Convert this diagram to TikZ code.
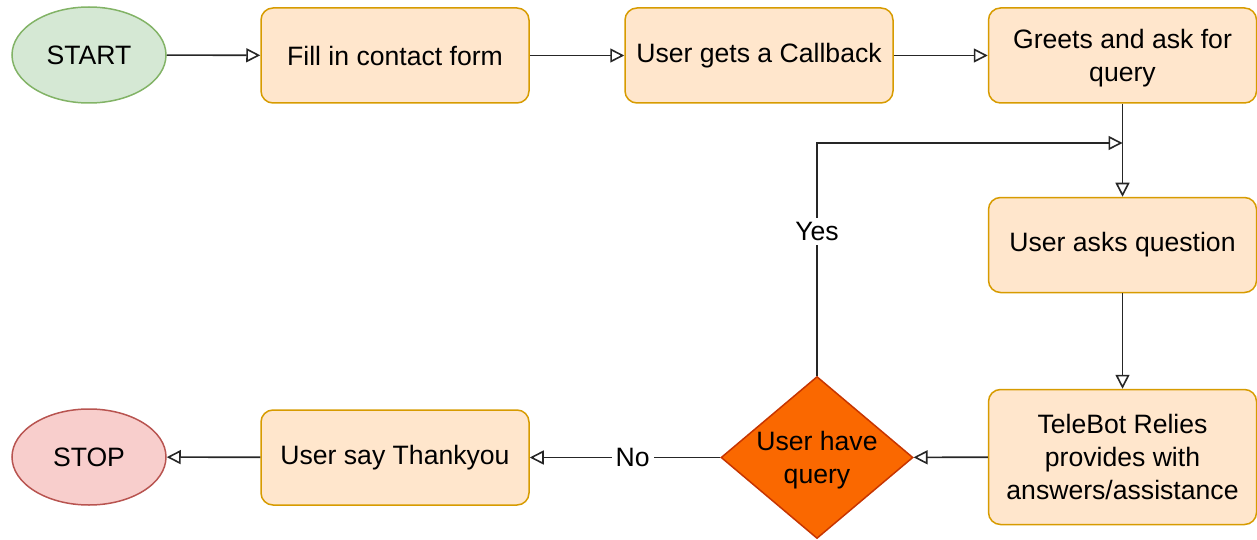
\documentclass[tikz,border=0pt]{standalone}
\usepackage{fontspec}
\setmainfont{Liberation Sans}
\usetikzlibrary{shapes.geometric,arrows.meta}
\definecolor{boxfill}{HTML}{FFE6CC}
\definecolor{boxline}{HTML}{D79B00}
\definecolor{startfill}{HTML}{D5E8D4}
\definecolor{startline}{HTML}{82B366}
\definecolor{stopfill}{HTML}{F8CECC}
\definecolor{stopline}{HTML}{B85450}
\definecolor{decfill}{HTML}{FA6800}
\definecolor{decline}{HTML}{C73500}
\tikzset{
  label font/.style={font=\fontsize{26.6}{33}\selectfont},
  stepbox/.style={draw=boxline, fill=boxfill, rounded corners=12pt, line width=1.5pt,
    minimum width=268pt, minimum height=95pt, align=center, label font, inner sep=2pt},
  terminal/.style={ellipse, line width=1.5pt, minimum width=154pt, minimum height=96pt,
    inner sep=0pt, label font},
  decision/.style={diamond, draw=decline, fill=decfill, line width=1.5pt, aspect=1.185,
    minimum width=192pt, minimum height=162pt, inner sep=0pt, align=center, label font},
  flow/.style={draw=black!85, line width=1.6pt, -{Triangle[open, length=14pt, width=14pt]}},
  edgelabel/.style={fill=white, label font, inner sep=4pt}
}
\begin{document}
\begin{tikzpicture}[x=1pt, y=-1pt]
\useasboundingbox (0,0) rectangle (1257,540);
\clip (0,0) rectangle (1257,540);

% top row
\node[terminal, draw=startline, fill=startfill] (start) at (89,55) {START};
\node[stepbox] (form) at (395,55.5) {Fill in contact form};
\node[stepbox] (callback) at (759,55.5) {User gets a Callback};
\node[stepbox, text depth=0pt] (greet) at (1122.5,55.5) {Greets and ask for\\query};

% right column
\node[stepbox] (ask) at (1122.5,245) {User asks question};
\node[stepbox, minimum height=135pt] (reply) at (1122.5,457) {TeleBot Relies\\provides with\\answers/assistance};

% bottom row
\node[decision, text depth=-3pt] (query) at (817,457.5) {User have\\query};
\node[stepbox] (thanks) at (395,457.5) {User say Thankyou};
\node[terminal, draw=stopline, fill=stopfill] (stop) at (89,457) {STOP};

\coordinate (merge) at (1122.5,143);

% connectors
\draw[flow] (start) -- (form);
\draw[flow] (form) -- (callback);
\draw[flow] (callback) -- (greet);
\draw[flow] (greet) -- (ask);
\draw[flow] (ask) -- (reply);
\draw[flow] (reply) -- (query);
\draw[flow] (query.north) |- node[pos=0.31, edgelabel] {Yes} (merge);
\draw[flow] (query.west) -- node[pos=0.46, edgelabel] {No} (thanks);
\draw[flow] (thanks) -- (stop);
\end{tikzpicture}
\end{document}
